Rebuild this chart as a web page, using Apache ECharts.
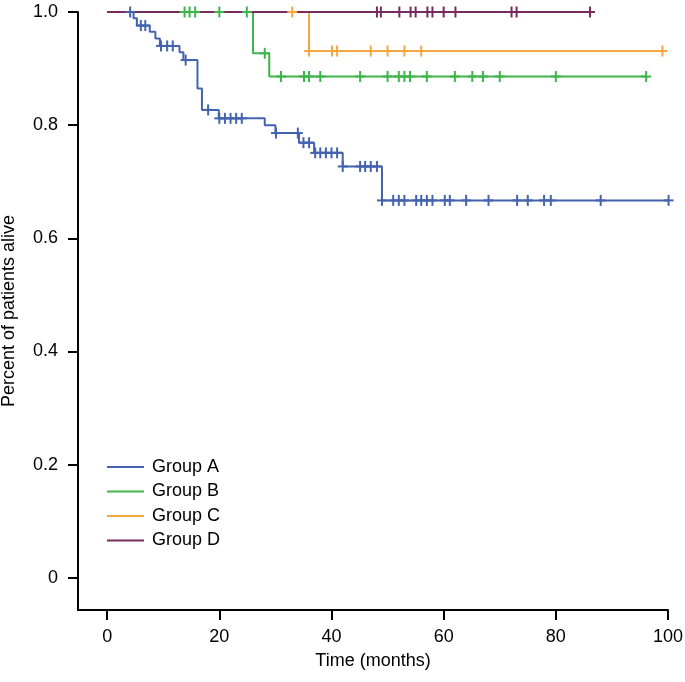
<!DOCTYPE html>
<html>
<head>
<meta charset="utf-8">
<script src="https://cdn.jsdelivr.net/npm/echarts@6/dist/echarts.min.js"></script>
<style>
html,body{margin:0;padding:0;background:#fff;}
#chart{width:685px;height:682px;}
</style>
</head>
<body>
<div id="chart"></div>
<script>
const groupNames = ['Group A', 'Group B', 'Group C', 'Group D'];
const groupColors = ['#4463AE', '#3DB54A', '#F5A641', '#772B5E'];

const xTicks = [0, 20, 40, 60, 80, 100];
const yTicks = [0, 0.2, 0.4, 0.6, 0.8, 1.0];

// Group A
const aEventTimes = [0, 4.7, 5.3, 7.6, 8.6, 9.4, 12.9, 13.6, 16.1, 16.9, 19.9, 28.1, 30.0, 34.2, 36.9, 42.0, 49.0];
const aSurvival   = [1.0, 0.989, 0.976, 0.965, 0.953, 0.940, 0.929, 0.915, 0.865, 0.827, 0.812, 0.800, 0.786, 0.769, 0.751, 0.727, 0.667];
const aCensored   = [4.1, 6.0, 6.8, 9.6, 10.7, 11.7, 14.0, 18.0, 20.0, 21.0, 22.0, 23.0, 24.0, 30.1, 34.0, 35.0, 36.0, 37.1, 38.0, 39.0, 40.0, 41.0, 42.0, 45.1, 46.0, 47.0, 48.1, 49.0, 51.0, 52.0, 53.0, 55.1, 56.0, 57.0, 58.0, 60.2, 61.1, 64.0, 68.0, 73.1, 75.0, 77.9, 79.1, 88.0, 100.1];

// Group B
const bEventTimes = [0, 26.0, 28.9];
const bSurvival   = [1.0, 0.927, 0.886];
const bCensored   = [13.8, 14.7, 15.7, 20.0, 24.9, 28.1, 31.0, 35.1, 36.0, 38.0, 45.1, 50.0, 52.0, 53.0, 54.0, 57.0, 62.0, 65.1, 67.0, 70.0, 80.0, 96.1];

// Group C
const cEventTimes = [0, 36.0];
const cSurvival   = [1.0, 0.931];
const cCensored   = [33.0, 36.0, 40.1, 41.0, 47.0, 50.0, 53.0, 56.0, 99.0];

// Group D
const dEventTimes = [0];
const dSurvival   = [1.0];
const dCensored   = [48.1, 48.8, 52.1, 54.1, 55.0, 57.1, 58.0, 60.0, 62.1, 72.1, 73.0, 86.1];

const groups = [
  {times: aEventTimes, surv: aSurvival, cens: aCensored},
  {times: bEventTimes, surv: bSurvival, cens: bCensored},
  {times: cEventTimes, surv: cSurvival, cens: cCensored},
  {times: dEventTimes, surv: dSurvival, cens: dCensored}
];

function survAt(g, t) {
  let s = g.surv[0];
  for (let i = 0; i < g.times.length; i++) {
    if (g.times[i] <= t) s = g.surv[i];
  }
  return s;
}

const FONT = 'Liberation Sans, Arial, sans-serif';
const FS = 18;
const series = [];
groups.forEach((g, i) => {
  const data = g.times.map((t, k) => [t, g.surv[k]]);
  const lastT = Math.max.apply(null, g.cens);
  data.push([lastT, survAt(g, lastT)]);
  series.push({
    name: groupNames[i],
    type: 'line',
    step: 'end',
    data: data,
    showSymbol: false,
    lineStyle: {color: groupColors[i], width: 2},
    itemStyle: {color: groupColors[i]},
    z: 2
  });
});
groups.forEach((g, i) => {
  series.push({
    name: groupNames[i] + ' censored',
    type: 'custom',
    data: g.cens.map(t => [t, survAt(g, t)]),
    z: 3,
    renderItem: function (params, api) {
      const p = api.coord([api.value(0), api.value(1)]);
      const st = {stroke: groupColors[i], lineWidth: 2};
      return {
        type: 'group',
        children: [
          {type: 'line', shape: {x1: p[0], y1: p[1] - 5.5, x2: p[0], y2: p[1] + 5.5}, style: st},
          {type: 'line', shape: {x1: p[0] - 5, y1: p[1], x2: p[0] + 5, y2: p[1]}, style: st}
        ]
      };
    }
  });
});

const chart = echarts.init(document.getElementById('chart'), null, {renderer: 'canvas'});
chart.setOption({
  animation: false,
  backgroundColor: '#fff',
  textStyle: {fontFamily: FONT},
  grid: {left: 78, right: 17, top: 12, bottom: 72, containLabel: false, outerBoundsMode: 'none'},
  legend: {
    data: groupNames,
    orient: 'vertical',
    left: 102,
    top: 453,
    icon: 'rect',
    itemWidth: 37,
    itemHeight: 2,
    itemGap: 6.5,
    textStyle: {fontFamily: FONT, fontSize: FS, color: '#000', padding: [0, 0, 0, 3]}
  },
  xAxis: {
    type: 'value',
    min: -5.2,
    max: 100,
    name: 'Time (months)',
    nameLocation: 'middle',
    nameGap: 42,
    nameTextStyle: {fontFamily: FONT, fontSize: FS, color: '#000'},
    axisLine: {show: true, onZero: false, lineStyle: {color: '#000', width: 2}},
    axisTick: {show: true, inside: false, length: 10, lineStyle: {color: '#000', width: 2}, customValues: xTicks},
    axisLabel: {fontFamily: FONT, fontSize: FS, color: '#000', margin: 18, customValues: xTicks, formatter: v => String(v)},
    splitLine: {show: false}
  },
  yAxis: {
    type: 'value',
    min: -0.057,
    max: 1.0,
    name: 'Percent of patients alive',
    nameLocation: 'middle',
    nameGap: 60,
    nameTextStyle: {fontFamily: FONT, fontSize: FS, color: '#000'},
    axisLine: {show: true, onZero: false, lineStyle: {color: '#000', width: 2}},
    axisTick: {show: true, inside: false, length: 10, lineStyle: {color: '#000', width: 2}, customValues: yTicks},
    axisLabel: {fontFamily: FONT, fontSize: FS, color: '#000', margin: 20, customValues: yTicks,
      formatter: v => (Math.abs(v) < 1e-9 ? '0' : v.toFixed(1))},
    splitLine: {show: false}
  },
  series: series
});
</script>
</body>
</html>
